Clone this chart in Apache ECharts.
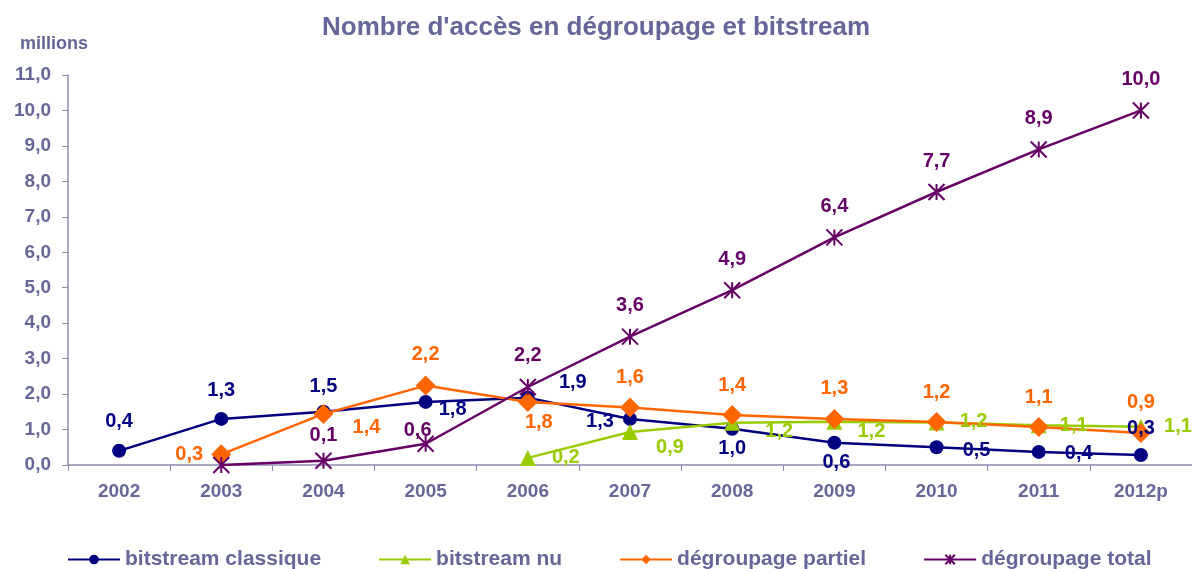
<!DOCTYPE html>
<html>
<head>
<meta charset="utf-8">
<script src="https://cdn.jsdelivr.net/npm/echarts@6/dist/echarts.min.js"></script>
<style>
  html, body { margin: 0; padding: 0; background: #fff; }
  #chart { width: 1192px; height: 569px; }
</style>
</head>
<body>
<div id="chart"></div>
<script>
  // données (millions d'accès)
  var years = ['2002', '2003', '2004', '2005', '2006', '2007', '2008', '2009', '2010', '2011', '2012p'];
  var yTicks = [0, 1, 2, 3, 4, 5, 6, 7, 8, 9, 10, 11];

  var bitstreamClassique = [0.40, 1.30, 1.50, 1.78, 1.90, 1.30, 1.02, 0.63, 0.50, 0.37, 0.28];
  var bitstreamNu = [null, null, null, null, 0.20, 0.93, 1.19, 1.22, 1.20, 1.12, 1.08];
  var degroupagePartiel = [null, 0.30, 1.44, 2.24, 1.78, 1.62, 1.41, 1.30, 1.21, 1.07, 0.90];
  var degroupageTotal = [null, 0.0, 0.12, 0.60, 2.20, 3.62, 4.93, 6.42, 7.70, 8.90, 10.00];

  // décalage des étiquettes (centre du texte par rapport au point), null = pas d'étiquette
  var offClassique = [[0, -29], [0, -28], [0, -25], [27, 8], [45, -15], [-30, 3], [0, 20], [2, 20], [40, 3], [40, 2], [0, -27]];
  var offNu = [null, null, null, null, [38, 0], [40, 15], [47, 9], [37, 10], [37, -1], [35, 0], [37, 0]];
  var offPartiel = [null, [-32, 0], [43, 14], [0, -31], [11, 21], [0, -30], [0, -30], [0, -30], [0, -30], [0, -30], [0, -31]];
  var offTotal = [null, null, [0, -25], [-8, -13], [0, -32], [0, -31], [0, -31], [0, -31], [0, -31], [0, -31], [0, -31]];

  var textColor = '#666699';
  var axisColor = '#8c8cae';
  var font = '"Liberation Sans", Arial, sans-serif';

  function fmt(v) {
    return v.toFixed(1).replace('.', ',');
  }

  function build(values, offsets) {
    return values.map(function (v, i) {
      var o = offsets[i];
      if (v === null) return null;
      return {
        value: v,
        label: o ? { show: true, position: 'inside', offset: o } : { show: false }
      };
    });
  }

  function serie(name, values, offsets, color, symbol, size) {
    return {
      name: name,
      type: 'line',
      data: build(values, offsets),
      symbol: symbol,
      symbolSize: size,
      showAllSymbol: true,
      connectNulls: false,
      lineStyle: { color: color, width: 2.5 },
      itemStyle: { color: color, borderColor: color, borderWidth: symbol.indexOf('path') === 0 ? 2 : 0 },
      label: {
        color: color,
        fontFamily: font,
        fontWeight: 'bold',
        fontSize: 20,
        formatter: function (p) { return fmt(p.value); }
      },
      emphasis: { disabled: true },
      animation: false
    };
  }

  var chart = echarts.init(document.getElementById('chart'));
  chart.setOption({
    backgroundColor: '#ffffff',
    title: {
      text: "Nombre d'accès en dégroupage et bitstream",
      left: 'center',
      top: 10,
      textStyle: { color: textColor, fontFamily: font, fontWeight: 'bold', fontSize: 26 }
    },
    legend: {
      top: 544,
      left: 62,
      itemGap: 57,
      itemWidth: 52,
      itemHeight: 12,
      textStyle: { color: textColor, fontFamily: font, fontWeight: 'bold', fontSize: 21 },
      data: ['bitstream classique', 'bitstream nu', 'dégroupage partiel', 'dégroupage total']
    },
    grid: { left: 68, right: 0, top: 75, bottom: 104, containLabel: false },
    xAxis: {
      type: 'category',
      data: years,
      boundaryGap: true,
      axisLine: { lineStyle: { color: axisColor, width: 1.5 } },
      axisTick: { show: true, length: 6, inside: false, lineStyle: { color: axisColor } },
      axisLabel: { color: textColor, fontFamily: font, fontWeight: 'bold', fontSize: 19, margin: 17 }
    },
    yAxis: {
      type: 'value',
      name: 'millions',
      nameLocation: 'end',
      nameGap: 22,
      nameTextStyle: { color: textColor, fontFamily: font, fontWeight: 'bold', fontSize: 18, align: 'right', padding: [0, -20, 0, 0] },
      min: yTicks[0],
      max: yTicks[yTicks.length - 1],
      interval: 1,
      axisLine: { show: true, lineStyle: { color: axisColor, width: 1.5 } },
      axisTick: { show: true, length: 6, lineStyle: { color: axisColor } },
      splitLine: { show: false },
      axisLabel: {
        color: textColor, fontFamily: font, fontWeight: 'bold', fontSize: 19, margin: 17,
        formatter: function (v) { return fmt(v); }
      }
    },
    series: [
      serie('bitstream classique', bitstreamClassique, offClassique, '#000080', 'circle', 14),
      serie('bitstream nu', bitstreamNu, offNu, '#99CC00', 'triangle', 16),
      serie('dégroupage partiel', degroupagePartiel, offPartiel, '#FF6600', 'diamond', 20),
      serie('dégroupage total', degroupageTotal, offTotal, '#660066',
        'path://M0,0L10,10M10,0L0,10M5,0L5,10', 16)
    ]
  });
</script>
</body>
</html>
